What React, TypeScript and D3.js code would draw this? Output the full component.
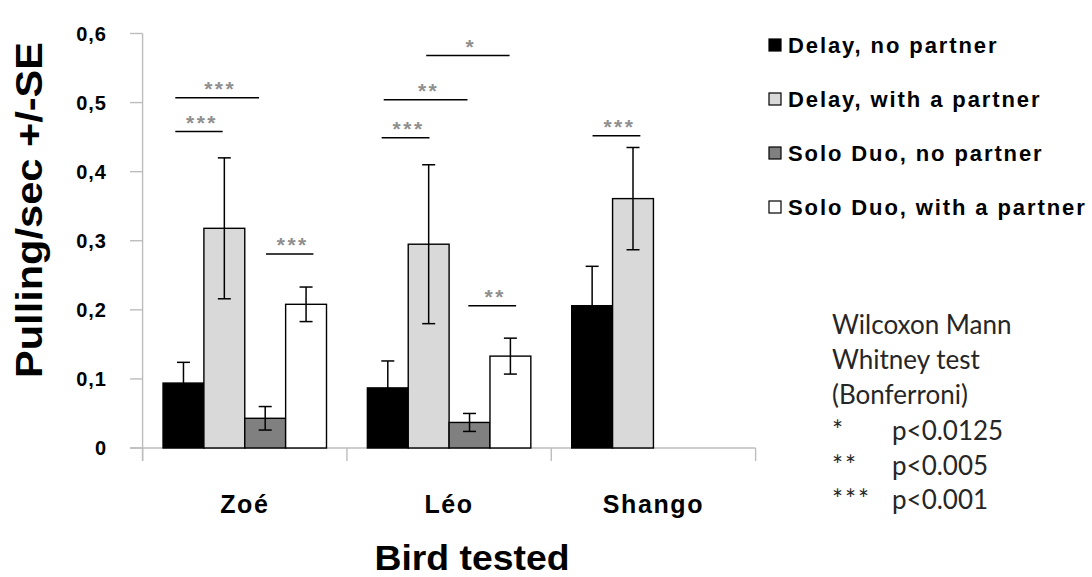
import React from "react";
import * as d3 from "d3";

// Birds and conditions
const categories = ["Zoé", "Léo", "Shango"];
const seriesNames = [
  "Delay, no partner",
  "Delay, with a partner",
  "Solo Duo, no partner",
  "Solo Duo, with a partner",
];
const seriesFill = ["#000000", "#d9d9d9", "#808080", "#ffffff"];

// Mean pulling rate (pulls/sec) and standard error, one entry per bird
const delayNoPartner = [0.094, 0.087, 0.206];
const delayNoPartnerSE = [0.03, 0.039, 0.057];
const delayWithPartner = [0.318, 0.295, 0.361];
const delayWithPartnerSE = [0.102, 0.115, 0.074];
const soloNoPartner = [0.043, 0.037, null];
const soloNoPartnerSE = [0.017, 0.013, null];
const soloWithPartner = [0.208, 0.133, null];
const soloWithPartnerSE = [0.025, 0.026, null];

const yTicks = [0, 0.1, 0.2, 0.3, 0.4, 0.5, 0.6];

// Pairwise comparisons: bird, span in bar slots within the group, level, stars
const sigBird = ["Zoé", "Zoé", "Zoé", "Léo", "Léo", "Léo", "Léo", "Shango"];
const sigFrom = [0.3, 0.3, 2.52, 1.44, 0.4, 0.35, 2.47, 0.51];
const sigTo = [2.35, 1.46, 3.68, 3.48, 2.45, 1.52, 3.64, 1.68];
const sigLevel = [0.507, 0.458, 0.281, 0.568, 0.504, 0.449, 0.206, 0.452];
const sigStars = ["***", "***", "***", "*", "**", "***", "**", "***"];

// Test legend
const noteLines = ["Wilcoxon Mann", "Whitney test", "(Bonferroni)"];
const noteStars = ["*", "**", "***"];
const noteThresholds = ["p<0.0125", "p<0.005", "p<0.001"];

const W = 1092;
const H = 577;

export default function App() {
  const means = [delayNoPartner, delayWithPartner, soloNoPartner, soloWithPartner];
  const ses = [delayNoPartnerSE, delayWithPartnerSE, soloNoPartnerSE, soloWithPartnerSE];

  const y = d3.scaleLinear().domain([0, 0.6]).range([448, 33.5]);
  const x = d3.scaleBand<string>().domain(categories).range([142.6, 755.6]).padding(0);
  const cw = x.bandwidth();
  const inner = d3
    .scaleBand<string>()
    .domain(seriesNames)
    .range([cw * 0.1, cw * 0.9])
    .padding(0);
  const bw = inner.bandwidth();
  const axisColor = "#bdbdbd";
  const boldFont = "'Liberation Sans', Arial, sans-serif";

  const bars: React.ReactNode[] = [];
  const errs: React.ReactNode[] = [];
  categories.forEach((c, ci) => {
    seriesNames.forEach((s, si) => {
      const v = means[si][ci];
      const e = ses[si][ci];
      if (v == null) return;
      const x0 = (x(c) as number) + (inner(s) as number);
      bars.push(
        <rect
          key={`b-${c}-${s}`}
          x={x0}
          y={y(v)}
          width={bw}
          height={y(0) - y(v)}
          fill={seriesFill[si]}
          stroke="#000"
          strokeWidth={1.4}
        />
      );
      if (e != null) {
        const cx = x0 + bw / 2;
        const capW = 6.5;
        errs.push(
          <g key={`e-${c}-${s}`} stroke="#000" strokeWidth={1.5}>
            <line x1={cx} x2={cx} y1={y(v + e)} y2={y(v - e)} />
            <line x1={cx - capW} x2={cx + capW} y1={y(v + e)} y2={y(v + e)} />
            <line x1={cx - capW} x2={cx + capW} y1={y(v - e)} y2={y(v - e)} />
          </g>
        );
      }
    });
  });

  const sig = sigBird.map((b, i) => {
    const gx = (x(b) as number) + cw * 0.1;
    const x1 = gx + sigFrom[i] * bw;
    const x2 = gx + sigTo[i] * bw;
    const ly = y(sigLevel[i]);
    return (
      <g key={`s-${i}`}>
        <line x1={x1} x2={x2} y1={ly} y2={ly} stroke="#000" strokeWidth={1.5} />
        <text
          x={(x1 + x2) / 2 + 3}
          y={ly - 2}
          textAnchor="middle"
          fontFamily={boldFont}
          fontWeight="bold"
          fontSize={21}
          letterSpacing={2.5}
          fill="#8f8f8f"
        >
          {sigStars[i]}
        </text>
      </g>
    );
  });

  const catTicks = [...categories.map((c) => x(c) as number), 755.6];

  return (
    <svg
      width={W}
      height={H}
      style={{ position: "absolute", left: 0, top: 0, background: "#fff" }}
    >
      <rect width={W} height={H} fill="#fff" />

      {/* value axis */}
      <line x1={142.6} x2={142.6} y1={y(0.6)} y2={y(0) + 13} stroke={axisColor} strokeWidth={1.4} />
      {yTicks.map((t) => (
        <g key={`yt-${t}`}>
          <line x1={130} x2={142.6} y1={y(t)} y2={y(t)} stroke={axisColor} strokeWidth={1.4} />
          <text
            x={107}
            y={y(t)}
            dy="0.36em"
            textAnchor="end"
            fontFamily={boldFont}
            fontWeight="bold"
            fontSize={20}
            letterSpacing={1}
          >
            {t === 0 ? "0" : d3.format(".1f")(t).replace(".", ",")}
          </text>
        </g>
      ))}

      {/* category axis */}
      <line x1={130} x2={755.6} y1={y(0)} y2={y(0)} stroke={axisColor} strokeWidth={1.4} />
      {catTicks.map((tx, i) => (
        <line key={`ct-${i}`} x1={tx} x2={tx} y1={y(0)} y2={y(0) + 13} stroke={axisColor} strokeWidth={1.4} />
      ))}
      {categories.map((c) => (
        <text
          key={`cl-${c}`}
          x={(x(c) as number) + cw / 2}
          y={513}
          textAnchor="middle"
          fontFamily={boldFont}
          fontWeight="bold"
          fontSize={25}
          letterSpacing={1.6}
        >
          {c}
        </text>
      ))}

      {bars}
      {errs}
      {sig}

      {/* axis titles */}
      <text
        transform="translate(41.5,210) rotate(-90)"
        textAnchor="middle"
        fontFamily={boldFont}
        fontWeight="bold"
        fontSize={37}
        textLength={336}
        lengthAdjust="spacingAndGlyphs"
      >
        Pulling/sec +/-SE
      </text>
      <text
        x={472}
        y={570}
        textAnchor="middle"
        fontFamily={boldFont}
        fontWeight="bold"
        fontSize={35}
        textLength={195}
        lengthAdjust="spacingAndGlyphs"
      >
        Bird tested
      </text>

      {/* series legend */}
      {seriesNames.map((s, i) => {
        const cy = 45 + i * 54;
        return (
          <g key={`lg-${s}`}>
            <rect x={769} y={cy - 6} width={12} height={12} fill={seriesFill[i]} stroke="#000" strokeWidth={1.2} />
            <text
              x={788}
              y={cy}
              dy="0.36em"
              fontFamily={boldFont}
              fontWeight="bold"
              fontSize={22}
              letterSpacing={1.9}
            >
              {s}
            </text>
          </g>
        );
      })}

      {/* test note */}
      <g fontFamily="Lato, 'Open Sans', sans-serif" fontSize={26} fill="#262626">
        {noteLines.map((l, i) => (
          <text key={`nl-${i}`} x={832} y={334 + i * 35}>
            {l}
          </text>
        ))}
        {noteStars.map((s, i) => (
          <g key={`ns-${i}`}>
            <text x={832} y={440 + i * 34.5} letterSpacing={2}>
              {s}
            </text>
            <text x={892} y={440 + i * 34.5}>
              {noteThresholds[i]}
            </text>
          </g>
        ))}
      </g>
    </svg>
  );
}
